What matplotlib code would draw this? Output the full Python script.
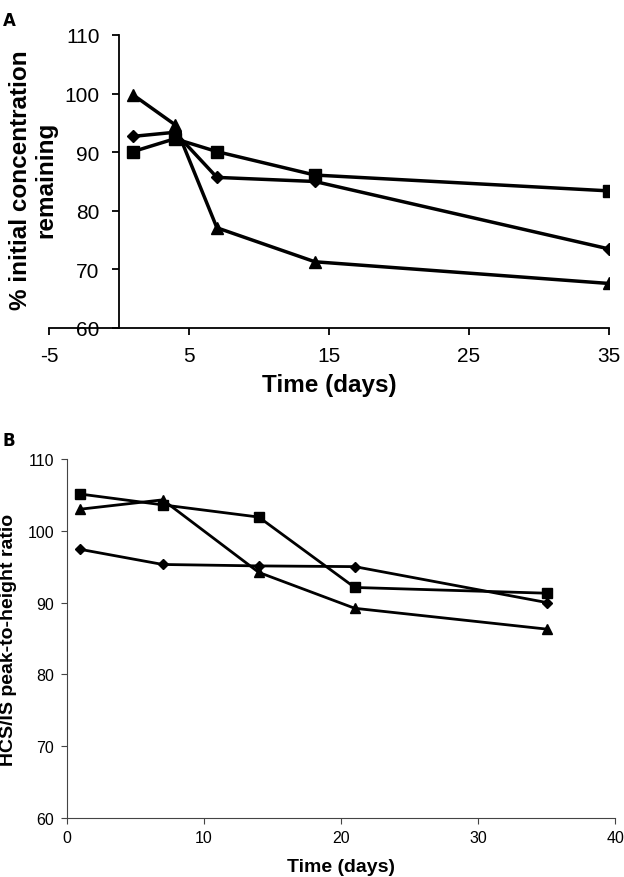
import matplotlib
matplotlib.use("Agg")
import matplotlib.pyplot as plt

plt.rcParams['font.family'] = ['Liberation Sans', 'DejaVu Sans']
plt.rcParams['axes.unicode_minus'] = False

# panel A: % initial concentration remaining
days_a = [1, 4, 7, 14, 35]
a_diamond = [92.7, 93.4, 85.7, 85.0, 73.5]
a_square = [90.1, 92.3, 90.1, 86.1, 83.4]
a_triangle = [99.8, 94.7, 77.1, 71.3, 67.6]

# panel B: HCS/IS peak-to-height ratio
days_b = [1, 7, 14, 21, 35]
b_diamond = [97.4, 95.3, 95.1, 95.0, 90.0]
b_square = [105.1, 103.6, 101.9, 92.1, 91.3]
b_triangle = [103.0, 104.3, 94.2, 89.2, 86.3]

fig = plt.figure(figsize=(6.24, 8.78), dpi=100)

# ---- panel A
ax1 = fig.add_axes([0.0785, 0.6253, 0.897, 0.3337])
for y, m in [(a_diamond, 'D'), (a_square, 's'), (a_triangle, '^')]:
    ms = 6 if m == 'D' else 8
    ax1.plot(days_a, y, color='black', marker=m, markersize=ms, linewidth=2.5)
ax1.set_xlim(-5, 35)
ax1.set_ylim(60, 110)
ax1.set_xticks([-5, 5, 15, 25, 35])
ax1.set_yticks([60, 70, 80, 90, 100, 110])
ax1.spines['left'].set_position(('data', 0))
ax1.spines['top'].set_visible(False)
ax1.spines['right'].set_visible(False)
ax1.spines['left'].set_linewidth(1.3)
ax1.spines['bottom'].set_linewidth(1.3)
ax1.tick_params(labelsize=15, length=5, width=1.3)
ax1.tick_params(axis='y', pad=9)
ax1.tick_params(axis='x', pad=8)
ax1.set_xlabel('Time (days)', fontsize=17.5, fontweight='bold', labelpad=6)
fig.text(0.053, 0.795, '% initial concentration\nremaining', rotation=90,
         ha='center', va='center', fontsize=17.5, fontweight='bold',
         multialignment='center', linespacing=1.1)

# ---- panel B
ax2 = fig.add_axes([0.107, 0.0672, 0.879, 0.409])
for y, m in [(b_diamond, 'D'), (b_square, 's'), (b_triangle, '^')]:
    ms = 5.5 if m == 'D' else 6.5
    ax2.plot(days_b, y, color='black', marker=m, markersize=ms, linewidth=2)
ax2.set_xlim(0, 40)
ax2.set_ylim(60, 110)
ax2.set_xticks([0, 10, 20, 30, 40])
ax2.set_yticks([60, 70, 80, 90, 100, 110])
ax2.spines['top'].set_visible(False)
ax2.spines['right'].set_visible(False)
ax2.spines['left'].set_color('#444444')
ax2.spines['bottom'].set_color('#444444')
ax2.tick_params(labelsize=11.5, length=4, color='#444444', pad=5)
ax2.set_xlabel('Time (days)', fontsize=14, fontweight='bold', labelpad=9)
ax2.set_ylabel('HCS/IS peak-to-height ratio', fontsize=14, fontweight='bold')
ax2.yaxis.set_label_coords(-0.091, 0.5)

fig.text(0.004, 0.986, 'A', fontsize=12, fontweight='bold', va='top',
         family='DejaVu Sans')
fig.text(0.004, 0.508, 'B', fontsize=12, fontweight='bold', va='top',
         family='DejaVu Sans')

fig.savefig('out.png', dpi=100)
